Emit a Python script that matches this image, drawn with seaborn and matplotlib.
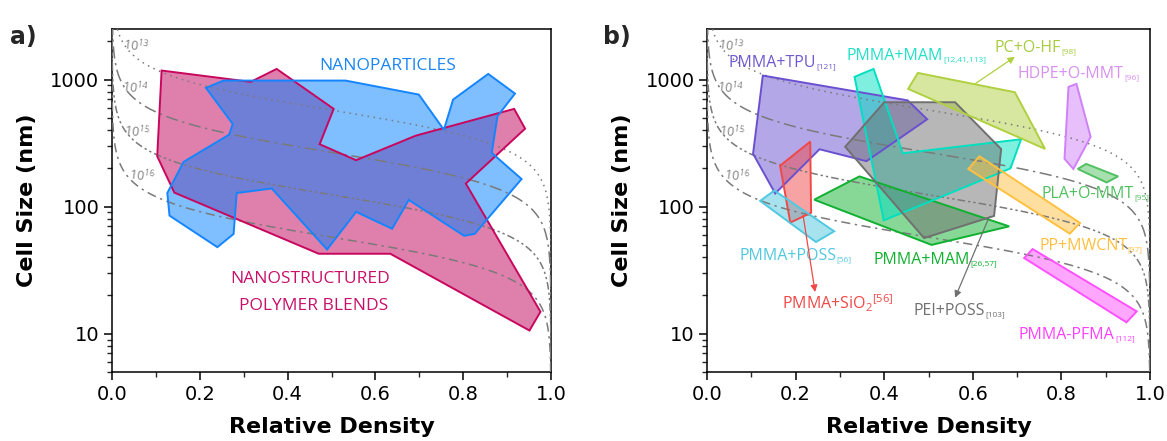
import numpy as np
import pandas as pd
import matplotlib
matplotlib.use("Agg")
import matplotlib.pyplot as plt
from matplotlib.ticker import LogLocator, NullFormatter, MultipleLocator
import seaborn as sns

sns.set_theme(style="ticks")
plt.rcParams['font.family'] = ['DejaVu Sans']
plt.rcParams['mathtext.fontset'] = 'custom'
plt.rcParams['mathtext.rm'] = 'Open Sans'
plt.rcParams['mathtext.it'] = 'Open Sans:italic:bold'
plt.rcParams['mathtext.bf'] = 'Open Sans:bold'

# ---------------- iso cell-density curves ----------------
cell_densities = [1e13, 1e14, 1e15, 1e16]
density_exp = ['13', '14', '15', '16']
density_label_rho = [0.055, 0.052, 0.057, 0.068]
density_label_size = [1855, 865, 389, 175]
density_dashes = {'13': (1, 3), '14': (8, 3, 1.5, 3), '15': (5, 2, 1.5, 2, 1.5, 2), '16': (6, 3, 1.5, 3)}

# ---------------- panel a ----------------
nano_rho = [0.214, 0.254, 0.532, 0.699, 0.756, 0.777, 0.857, 0.918, 0.878, 0.865, 0.933,
            0.826, 0.802, 0.676, 0.638, 0.556, 0.490, 0.364, 0.284, 0.277, 0.240, 0.131,
            0.126, 0.163, 0.267, 0.275]
nano_size = [860, 982, 982, 762, 403, 696, 1108, 776, 514, 265, 165,
             61, 59, 113, 67, 91, 46, 139, 128, 61, 48, 85,
             128, 225, 369, 448]
blend_rho = [0.113, 0.316, 0.375, 0.505, 0.473, 0.556, 0.692, 0.916, 0.941, 0.806,
             0.976, 0.951, 0.634, 0.471, 0.142, 0.103]
blend_size = [1178, 959, 1213, 588, 310, 232, 362, 588, 411, 152,
              14.9, 10.6, 42.6, 42.6, 129, 249]

# ---------------- panel b ----------------
tpu_rho = [0.126, 0.453, 0.497, 0.360, 0.254, 0.154, 0.104]
tpu_size = [1075, 686, 487, 228, 283, 127, 261]
sio2_rho = [0.165, 0.233, 0.235, 0.188]
sio2_size = [210, 325, 89.5, 75]
poss_rho = [0.120, 0.152, 0.287, 0.246]
poss_size = [111, 134, 64, 52.7]
mam26_rho = [0.242, 0.344, 0.682, 0.507]
mam26_size = [113.5, 173, 70, 50]
mam12_rho = [0.333, 0.376, 0.442, 0.709, 0.685, 0.399]
mam12_size = [1050, 1213, 263, 339, 200, 78]
pei_rho = [0.312, 0.400, 0.560, 0.664, 0.648, 0.490]
pei_size = [296, 663, 663, 284, 84.5, 56.6]
pc_rho = [0.454, 0.476, 0.695, 0.763]
pc_size = [845, 1128, 795, 285]
hdpe_rho = [0.816, 0.834, 0.866, 0.827, 0.807]
hdpe_size = [876, 925, 354, 198, 238]
pla_rho = [0.837, 0.856, 0.928, 0.902]
pla_size = [198, 217, 173, 155]
pp_rho = [0.590, 0.615, 0.842, 0.819]
pp_size = [198, 249, 74.5, 61.3]
pfma_rho = [0.716, 0.735, 0.970, 0.947]
pfma_size = [39.4, 46.4, 15, 12.3]

# (main text, subscript, rho, size, fill colour, label colour, label pos)
systems = [
    ("PMMA+TPU", "[121]", tpu_rho, tpu_size, '#6A50D0', '#7058D0', (0.048, 1247)),
    (r"PMMA+SiO$_{2}{}^{[56]}$", "", sio2_rho, sio2_size, '#F04848', '#F04848', (0.169, 15.6)),
    ("PMMA+POSS", "[56]", poss_rho, poss_size, '#50C8E0', '#50C8E0', (0.073, 37.9)),
    ("PMMA+MAM", "[26,57]", mam26_rho, mam26_size, '#10B030', '#10B030', (0.375, 35.3)),
    ("PMMA+MAM", "[12,41,113]", mam12_rho, mam12_size, '#00E0C0', '#20E0C8', (0.315, 1424)),
    ("PEI+POSS", "[103]", pei_rho, pei_size, '#707070', '#707070', (0.466, 14.0)),
    ("PC+O-HF", "[98]", pc_rho, pc_size, '#B0D040', '#A8CC40', (0.65, 1655)),
    ("HDPE+O-MMT", "[96]", hdpe_rho, hdpe_size, '#D080F8', '#D890F0', (0.702, 1023)),
    ("PLA+O-MMT", "[95]", pla_rho, pla_size, '#50C060', '#50C060', (0.755, 118)),
    ("PP+MWCNT", "[97]", pp_rho, pp_size, '#FFC040', '#FFC040', (0.750, 46)),
    ("PMMA-PFMA", "[112]", pfma_rho, pfma_size, '#FF50FF', '#FF40FF', (0.704, 9.15)),
]

arrows = [  # (start rho, start size, end rho, end size, color)
    (0.605, 925, 0.695, 1510, '#B0D040'),
    (0.217, 85, 0.244, 21.3, '#F04848'),
    (0.637, 83, 0.560, 19.2, '#707070'),
]

# --------------------------------------------------------------
rho_grid = np.concatenate([np.logspace(-7, -1, 300), np.linspace(0.1, 0.99, 400)[1:],
                           1 - np.logspace(-2, -9, 300)[1:]])
rows = []
for N, e in zip(cell_densities, density_exp):
    phi = (6 * (1 - rho_grid) / (np.pi * N * rho_grid)) ** (1 / 3) * 1e7
    for r, p in zip(rho_grid, phi):
        rows.append((r, p, e))
curves = pd.DataFrame(rows, columns=['rho', 'size', 'N'])

fig = plt.figure(figsize=(11.67, 4.41), dpi=100)
axa = fig.add_axes([112 / 1167, 69 / 441, 439 / 1167, 343 / 441])
axb = fig.add_axes([707 / 1167, 69 / 441, 443 / 1167, 343 / 441])


def style_axis(ax):
    ax.set_yscale('log')
    ax.set_xlim(0, 1)
    ax.set_ylim(5, 2500)
    ax.set_yticks([10, 100, 1000])
    ax.set_yticklabels(['10', '100', '1000'])
    ax.yaxis.set_minor_locator(LogLocator(base=10, subs=np.arange(2, 10)))
    ax.yaxis.set_minor_formatter(NullFormatter())
    ax.set_xticks([0, 0.2, 0.4, 0.6, 0.8, 1.0])
    ax.set_xticklabels(['0.0', '0.2', '0.4', '0.6', '0.8', '1.0'])
    ax.xaxis.set_minor_locator(MultipleLocator(0.1))
    ax.tick_params(which='major', direction='out', length=6, width=1.1, labelsize=14,
                   colors='black', pad=3)
    ax.tick_params(which='minor', direction='out', length=3.5, width=1.0)
    for s in ax.spines.values():
        s.set_color('black')
        s.set_linewidth(1.1)
    ax.set_xlabel('Relative Density', fontsize=16, fontweight='bold', color='black')
    ax.set_ylabel('Cell Size (nm)', fontsize=16, fontweight='bold', color='black')
    ax.xaxis.set_label_coords(0.5, -0.13)
    ax.yaxis.set_label_coords(-0.17, 0.5)
    ax.set_facecolor('white')
    ax.grid(False)


def draw_curves(ax):
    sns.lineplot(data=curves, x='rho', y='size', style='N', dashes=density_dashes,
                 color='#7a7a7a', linewidth=1.1, sort=False, estimator=None,
                 legend=False, ax=ax, zorder=4)
    for e, r, s in zip(density_exp, density_label_rho, density_label_size):
        ax.text(r, s, r'$\mathit{10^{%s}}$' % e, color='#808080', fontsize=9,
                ha='center', va='center', rotation=-8, zorder=5)


for ax in (axa, axb):
    draw_curves(ax)

# panel a
axa.fill(blend_rho, blend_size, color='#C0005A', alpha=0.5, lw=0, zorder=2)
axa.fill(nano_rho, nano_size, color='#007FFF', alpha=0.5, lw=0, zorder=2.1)
axa.fill(blend_rho, blend_size, fill=False, edgecolor='#C8065E', lw=1.4, zorder=6)
axa.fill(nano_rho, nano_size, fill=False, edgecolor='#1485FF', lw=1.4, zorder=6)
axa.text(0.628, 1273, 'NANOPARTICLES', color='#1a86f5', fontsize=12.5,
         family='Open Sans', ha='center', va='center', zorder=7)
axa.text(0.451, 27, 'NANOSTRUCTURED', color='#C8106A', fontsize=12.5,
         family='Open Sans', ha='center', va='center', zorder=7)
axa.text(0.46, 16.6, 'POLYMER BLENDS', color='#C8106A', fontsize=12.5,
         family='Open Sans', ha='center', va='center', zorder=7)

# panel b
for i, (main, sub, rr, ss, col, lcol, pos) in enumerate(systems):
    axb.fill(rr, ss, color=col, alpha=0.5, lw=0, zorder=2 + i * 0.01)
for main, sub, rr, ss, col, lcol, (lx, ly) in systems:
    axb.fill(rr, ss, fill=False, edgecolor=col, lw=1.4, zorder=6)
    t = axb.text(lx, ly, main, color=lcol, fontsize=11.5, family='Open Sans',
                 ha='left', va='baseline', zorder=7)
    if sub:
        axb.annotate(sub, xy=(1, 0), xycoords=t, xytext=(0.3, 0.5),
                     textcoords='offset points', color=lcol, fontsize=6,
                     family='Open Sans', ha='left', va='bottom', zorder=7)
for x0, y0, x1, y1, col in arrows:
    axb.annotate('', xy=(x1, y1), xytext=(x0, y0),
                 arrowprops=dict(arrowstyle='-|>', color=col, lw=0.9, mutation_scale=10,
                                 shrinkA=0, shrinkB=0), zorder=7)

for ax in (axa, axb):
    style_axis(ax)

fig.text(10 / 1167, 1 - 37 / 441, 'a)', fontsize=17, fontweight='bold', va='center', ha='left')
fig.text(603 / 1167, 1 - 37 / 441, 'b)', fontsize=17, fontweight='bold', va='center', ha='left')

fig.savefig('out.png', dpi=100, facecolor='white')
